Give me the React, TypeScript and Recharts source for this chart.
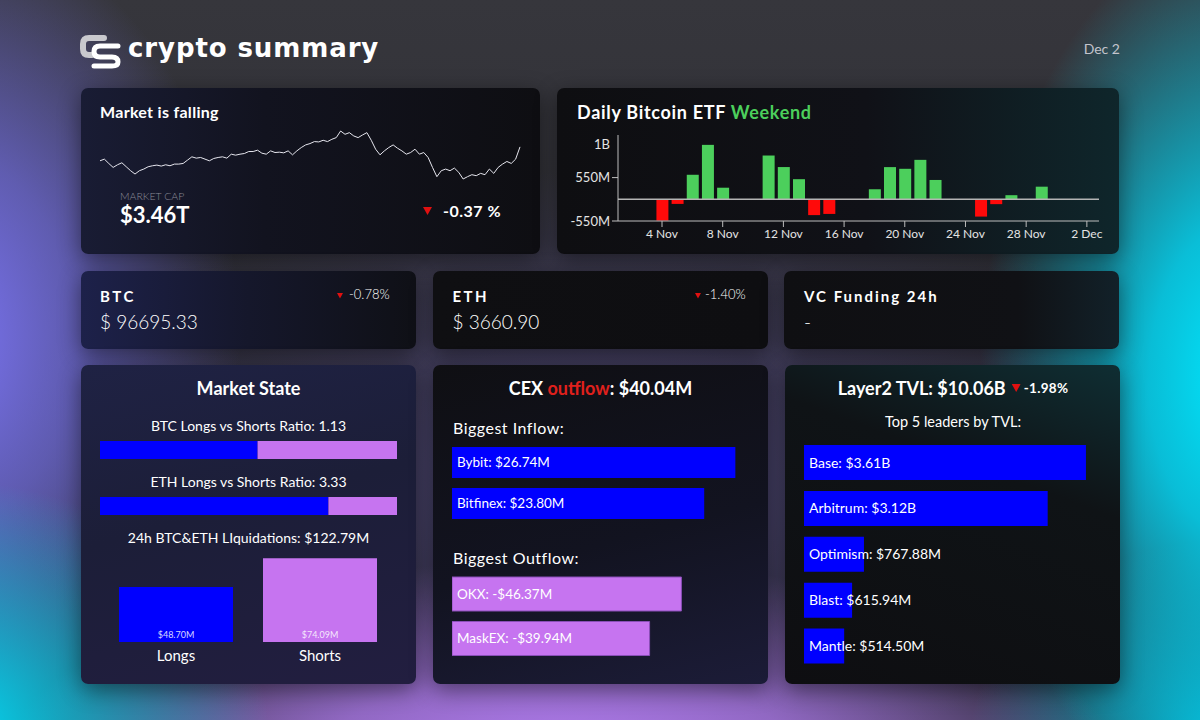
import React from 'react';
import { BarChart, Bar, XAxis, YAxis, LineChart, Line, ReferenceLine, LabelList, Cell } from 'recharts';

const FONT = 'Lato, "Noto Sans", sans-serif';
const BLUE = '#0000ff';
const VIOLET = '#c674f0';
const GREEN = '#4ccf5c';
const RED = '#ff0a0a';

// Market cap trend (trillions USD), read from sparkline
const marketCapT = [
  3.380, 3.385, 3.372, 3.360, 3.368, 3.374, 3.362, 3.350, 3.340, 3.350,
  3.355, 3.362, 3.365, 3.367, 3.364, 3.368, 3.365, 3.370, 3.370, 3.372,
  3.382, 3.392, 3.388, 3.390, 3.385, 3.380, 3.387, 3.390, 3.392, 3.388,
  3.400, 3.397, 3.400, 3.402, 3.408, 3.408, 3.412, 3.403, 3.400, 3.410,
  3.405, 3.406, 3.404, 3.410, 3.398, 3.410, 3.420, 3.428, 3.432, 3.438,
  3.437, 3.442, 3.438, 3.445, 3.450, 3.470, 3.460, 3.465, 3.455, 3.450,
  3.458, 3.465, 3.442, 3.415, 3.398, 3.410, 3.420, 3.428, 3.418, 3.410,
  3.400, 3.405, 3.415, 3.400, 3.405, 3.390, 3.360, 3.332, 3.350, 3.355,
  3.350, 3.358, 3.345, 3.325, 3.332, 3.338, 3.335, 3.342, 3.338, 3.355,
  3.342, 3.360, 3.370, 3.378, 3.372, 3.385, 3.422,
];

// Daily Bitcoin ETF net flows (day of November; 32 = 2 Dec), millions USD
const etfDays = [4, 5, 6, 7, 8, 11, 12, 13, 14, 15, 18, 19, 20, 21, 22, 25, 26, 27, 29];
const etfFlowsM = [-541.1, -116.8, 621.9, 1380, 293.9, 1110, 817.5, 510.1, -400.7, -370.8, 254.7, 816.4, 773.4, 1000, 490.3, -438.4, -122.8, 104.3, 320];
const etfTickDays = [4, 8, 12, 16, 20, 24, 28, 32];
const etfTickLabels = ['4 Nov', '8 Nov', '12 Nov', '16 Nov', '20 Nov', '24 Nov', '28 Nov', '2 Dec'];
const etfYTicks = [-550, 550, 1380];
const etfYTickLabels = ['-550M', '550M', '1B'];

// Long/short ratios
const ratioAssets = ['BTC', 'ETH'];
const longShortRatios = [1.13, 3.33];

// Liquidations (millions USD)
const liqSides = ['Longs', 'Shorts'];
const liqValuesM = [48.70, 74.09];

// CEX flows (millions USD)
const inflowExchanges = ['Bybit', 'Bitfinex'];
const inflowValuesM = [26.74, 23.80];
const outflowExchanges = ['OKX', 'MaskEX'];
const outflowValuesM = [-46.37, -39.94];

// Layer2 TVL (millions USD)
const l2Names = ['Base', 'Arbitrum', 'Optimism', 'Blast', 'Mantle'];
const l2TvlM = [3610, 3120, 767.88, 615.94, 514.50];

const sparkData = marketCapT.map((v, i) => ({ i, v }));
const etfData = etfDays.map((d, i) => ({ day: d, flow: etfFlowsM[i] }));
const ratioRows = ratioAssets.map((a, i) => ({ name: a, longs: longShortRatios[i], shorts: 1 }));
const liqData = liqSides.map((s, i) => ({ name: s, value: liqValuesM[i] }));
const fmtM = (v: number) => {
  const a = Math.abs(v);
  const s = a >= 1000 ? `$${(a / 1000).toFixed(2)}B` : `$${a.toFixed(2)}M`;
  return (v < 0 ? '-' : '') + s;
};
const inflowData = inflowExchanges.map((n, i) => ({ name: n, value: inflowValuesM[i], label: `${n}: ${fmtM(inflowValuesM[i])}` }));
const outflowData = outflowExchanges.map((n, i) => ({ name: n, value: Math.abs(outflowValuesM[i]), label: `${n}: ${fmtM(outflowValuesM[i])}` }));
const l2Data = l2Names.map((n, i) => ({ name: n, value: l2TvlM[i], label: `${n}: ${fmtM(l2TvlM[i])}` }));

type TxtProps = { x: number; y: number; size: number; weight?: number; color?: string; anchor?: 'start' | 'middle' | 'end'; spacing?: number; family?: string; children: React.ReactNode };
const Txt = ({ x, y, size, weight = 400, color = '#fff', anchor = 'start', spacing = 0, family = FONT, children }: TxtProps) => (
  <div
    style={{
      position: 'absolute', left: x, top: y - size * 0.63, fontSize: size, lineHeight: `${size * 1.2}px`,
      fontWeight: weight, color, fontFamily: family, letterSpacing: spacing, whiteSpace: 'nowrap',
      transform: anchor === 'middle' ? 'translateX(-50%)' : anchor === 'end' ? 'translateX(-100%)' : undefined,
    }}
  >
    {children}
  </div>
);

const Tri = ({ x, y, w }: { x: number; y: number; w: number }) => (
  <svg style={{ position: 'absolute', left: x - w / 2, top: y - w * 0.45 }} width={w} height={w}>
    <polygon points={`0,0 ${w},0 ${w / 2},${w * 0.9}`} fill="#e01010" />
  </svg>
);

const Card = ({ x, y, w, h, bg }: { x: number; y: number; w: number; h: number; bg: string }) => (
  <div style={{ position: 'absolute', left: x, top: y, width: w, height: h, borderRadius: 7, background: bg, boxShadow: '0 6px 22px rgba(0,0,0,0.45)' }} />
);

const Pos = ({ x, y, children }: { x: number; y: number; children: React.ReactNode }) => (
  <div style={{ position: 'absolute', left: x, top: y }}>{children}</div>
);

const EtfYTick = (p: any) => {
  const { x, y, payload } = p;
  const idx = etfYTicks.indexOf(payload.value);
  return (
    <g>
      {payload.value !== 1380 && <line x1={x + 2} x2={x + 8} y1={y} y2={y} stroke="#c0c0c0" />}
      <text x={x} y={y} dy="0.35em" textAnchor="end" fill="#e4e4e4" fontSize={13} fontFamily={FONT}>{etfYTickLabels[idx]}</text>
    </g>
  );
};

const makeBarLabel = (fontSize: number) => (p: any) => {
  const vb = p.viewBox || {};
  const x = p.x ?? vb.x;
  const y = p.y ?? vb.y;
  const h = p.height ?? vb.height;
  return (
    <text x={x + 5} y={y + h / 2} dy="0.36em" fill="#ffffff" fontSize={fontSize} fontFamily={FONT}>{p.value}</text>
  );
};

const HBar = ({ data, w, h, max, barSize, fill, stroke, fontSize }: any) => (
  <BarChart layout="vertical" width={w} height={h} data={data} margin={{ top: 0, right: 0, left: 0, bottom: 0 }}>
    <XAxis type="number" hide domain={[0, max]} />
    <YAxis type="category" dataKey="name" hide />
    <Bar dataKey="value" fill={fill} stroke={stroke} strokeWidth={stroke ? 1 : 0} barSize={barSize} isAnimationActive={false}>
      <LabelList dataKey="label" content={makeBarLabel(fontSize)} />
    </Bar>
  </BarChart>
);

const RatioBar = ({ row }: any) => (
  <BarChart layout="vertical" width={297} height={20} data={[row]} margin={{ top: 0, right: 0, left: 0, bottom: 0 }} barCategoryGap={0}>
    <XAxis type="number" hide domain={[0, 'dataMax']} />
    <YAxis type="category" dataKey="name" hide />
    <Bar dataKey="longs" stackId="r" fill={BLUE} barSize={20} isAnimationActive={false} />
    <Bar dataKey="shorts" stackId="r" fill={VIOLET} barSize={20} isAnimationActive={false} />
  </BarChart>
);

export default function App() {
  const bg = [
    'radial-gradient(ellipse 260px 450px at 1240px 380px, rgba(0,232,255,1) 0%, rgba(0,225,255,0.8) 35%, rgba(0,220,255,0) 100%)',
    'radial-gradient(ellipse 330px 260px at -60px 740px, rgba(0,228,255,1) 0%, rgba(0,228,255,0.6) 40%, rgba(0,228,255,0) 100%)',
    'radial-gradient(ellipse 560px 210px at 560px 770px, rgba(185,128,250,1) 0%, rgba(185,128,250,0.7) 45%, rgba(185,128,250,0) 100%)',
    'radial-gradient(ellipse 300px 420px at -60px 340px, rgba(125,118,248,1) 0%, rgba(120,115,240,0.65) 45%, rgba(120,115,240,0) 100%)',
    'radial-gradient(ellipse 260px 200px at 1230px 740px, rgba(0,200,230,0.9) 0%, rgba(0,200,230,0) 100%)',
    'radial-gradient(ellipse 600px 300px at 600px 470px, rgba(110,95,190,0.45) 0%, rgba(110,95,190,0) 100%)',
    'linear-gradient(180deg, #36363c 0%, #2d2d34 60%, #2e2d3a 100%)',
  ].join(',');

  return (
    <div style={{ position: 'absolute', left: 0, top: 0, width: 1200, height: 720, overflow: 'hidden', background: bg, fontFamily: FONT }}>
      {/* Header */}
      <svg style={{ position: 'absolute', left: 78, top: 32 }} width={46} height={38}>
        <path d="M 26 6 H 11 Q 5 6 5 12 V 17 Q 5 23 11 23 H 14" fill="none" stroke="#c9c9ce" strokeWidth={6} strokeLinecap="round" />
        <path d="M 40 14 H 22 Q 16 14 16 19.5 Q 16 25 22 25 H 34 Q 40 25 40 30 Q 40 34 34 34 H 16" fill="none" stroke="#ffffff" strokeWidth={5} strokeLinecap="round" />
      </svg>
      <Txt x={128} y={49} size={26} weight={700} spacing={0.9} family='"DejaVu Sans", sans-serif'>crypto summary</Txt>
      <Txt x={1120} y={50} size={14} color="#c4c4cc" anchor="end">Dec 2</Txt>

      {/* Cards */}
      <Card x={81} y={88} w={459} h={166} bg="linear-gradient(90deg, #191c34 0%, #12131f 40%, #0e0e12 100%)" />
      <Card x={557} y={88} w={562} h={166} bg="linear-gradient(90deg, #0e0e11 0%, #101117 55%, #0f262b 100%)" />
      <Card x={81} y={271} w={335} h={78} bg="linear-gradient(90deg, #1d214a 0%, #15172b 50%, #0f1016 100%)" />
      <Card x={433} y={271} w={335} h={78} bg="linear-gradient(90deg, #0f0f12 0%, #0e0e11 100%)" />
      <Card x={784} y={271} w={335} h={78} bg="linear-gradient(90deg, #0f0f12 0%, #101115 70%, #122129 100%)" />
      <Card x={81} y={365} w={335} h={319} bg="linear-gradient(165deg, #1f2244 0%, #1c1e38 45%, #221e40 100%)" />
      <Card x={433} y={365} w={335} h={319} bg="linear-gradient(165deg, #0f0f13 0%, #121320 55%, #1c1c38 100%)" />
      <Card x={785} y={365} w={335} h={319} bg="linear-gradient(200deg, #0f2e33 0%, #0f1316 35%, #0e0e11 100%)" />

      {/* Market is falling */}
      <Txt x={100} y={112} size={16} weight={700} spacing={0.3}>Market is falling</Txt>
      <Pos x={100} y={130}>
        <LineChart width={421} height={50} data={sparkData} margin={{ top: 1, right: 1, left: 0, bottom: 1 }}>
          <XAxis dataKey="i" hide />
          <YAxis hide domain={['dataMin', 'dataMax']} />
          <Line type="linear" dataKey="v" stroke="#e6e6ee" strokeWidth={1} dot={false} isAnimationActive={false} />
        </LineChart>
      </Pos>
      <Txt x={120} y={197} size={10.5} weight={300} color="#8a8a96">MARKET CAP</Txt>
      <Txt x={120} y={215.5} size={22} weight={700}>$3.46T</Txt>
      <Tri x={427} y={211} w={9} />
      <Txt x={443} y={211} size={16} weight={700} spacing={0.5}>-0.37 %</Txt>

      {/* Daily Bitcoin ETF */}
      <Txt x={577} y={113} size={18} weight={700} spacing={0.7}>
        Daily Bitcoin ETF <span style={{ color: GREEN }}>Weekend</span>
      </Txt>
      <Pos x={557} y={125}>
        <BarChart width={562} height={126} data={etfData} margin={{ top: 10, right: 20, left: 0, bottom: 0 }}>
          <XAxis
            type="number" dataKey="day" domain={[1.1, 32.8]} ticks={etfTickDays} interval={0} allowDataOverflow
            tickFormatter={(d: number) => etfTickLabels[etfTickDays.indexOf(d)]}
            stroke="#bdbdbd" tick={{ fill: '#e4e4e4', fontSize: 12, fontFamily: FONT }} height={30}
          />
          <YAxis
            type="number" domain={[-550, 1630]} ticks={etfYTicks} interval={0} allowDataOverflow width={61}
            stroke="#bdbdbd" tickLine={false} tick={(p: any) => <EtfYTick {...p} />}
          />
          <ReferenceLine y={0} stroke="#b4b4b4" strokeWidth={1.5} />
          <Bar dataKey="flow" barSize={12} isAnimationActive={false}>
            {etfData.map((d, i) => <Cell key={i} fill={d.flow >= 0 ? GREEN : RED} />)}
          </Bar>
        </BarChart>
      </Pos>

      {/* BTC / ETH / VC */}
      <Txt x={100} y={296} size={15} weight={700} spacing={2.5}>BTC</Txt>
      <Txt x={100} y={322.5} size={19} weight={300}>$ 96695.33</Txt>
      <Tri x={340} y={296} w={6} />
      <Txt x={349} y={295.5} size={13} weight={300}>-0.78%</Txt>

      <Txt x={452.5} y={296} size={15} weight={700} spacing={2.5}>ETH</Txt>
      <Txt x={452.5} y={322.5} size={19} weight={300}>$ 3660.90</Txt>
      <Tri x={698} y={296} w={6} />
      <Txt x={705} y={295.5} size={13} weight={300}>-1.40%</Txt>

      <Txt x={804} y={296} size={15} weight={700} spacing={2}>VC Funding 24h</Txt>
      <Txt x={804} y={322.5} size={19} weight={300}>-</Txt>

      {/* Market State */}
      <Txt x={248.5} y={389} size={18} weight={700} anchor="middle">Market State</Txt>
      <Txt x={248.5} y={427.3} size={14} anchor="middle">BTC Longs vs Shorts Ratio: 1.13</Txt>
      <Pos x={100} y={440}><RatioBar row={ratioRows[0]} /></Pos>
      <Txt x={248.5} y={483.3} size={14} anchor="middle">ETH Longs vs Shorts Ratio: 3.33</Txt>
      <Pos x={100} y={496}><RatioBar row={ratioRows[1]} /></Pos>
      <Txt x={248.5} y={539} size={14} anchor="middle">24h BTC&amp;ETH LIquidations: $122.79M</Txt>
      <Pos x={100} y={540}>
        <BarChart width={297} height={130} data={liqData} margin={{ top: 10, right: 5, left: 4, bottom: 0 }}>
          <XAxis dataKey="name" axisLine={false} tickLine={false} height={28} tick={{ fill: '#ffffff', fontSize: 15, fontFamily: FONT }} />
          <YAxis hide domain={[0, 81.4]} />
          <Bar dataKey="value" barSize={114} isAnimationActive={false}>
            {liqData.map((d, i) => <Cell key={i} fill={i === 0 ? BLUE : VIOLET} />)}
            <LabelList dataKey="value" position="insideBottom" offset={4} fill="rgba(255,255,255,0.85)" fontSize={9} fontFamily={FONT} formatter={(v: any) => fmtM(Number(v))} />
          </Bar>
        </BarChart>
      </Pos>

      {/* CEX */}
      <Txt x={600.5} y={389} size={18} weight={700} anchor="middle">
        CEX <span style={{ color: '#e0201c' }}>outflow</span>: $40.04M
      </Txt>
      <Txt x={453} y={428.3} size={16} spacing={0.5}>Biggest Inflow:</Txt>
      <Pos x={452} y={442}>
        <HBar data={inflowData} w={300} h={82} max={28.31} barSize={31} fill={BLUE} fontSize={13.5} />
      </Pos>
      <Txt x={453} y={557.7} size={16} spacing={0.5}>Biggest Outflow:</Txt>
      <Pos x={452} y={572}>
        <HBar data={outflowData} w={300} h={89} max={60.64} barSize={34} fill={VIOLET} stroke="#8a4fb8" fontSize={13.5} />
      </Pos>

      {/* Layer2 */}
      <div style={{ position: 'absolute', left: 953, top: 389 - 18 * 0.63, transform: 'translateX(-50%)', whiteSpace: 'nowrap', fontFamily: FONT, color: '#fff', display: 'flex', alignItems: 'center' }}>
        <span style={{ fontSize: 18, fontWeight: 700, lineHeight: '21.6px' }}>Layer2 TVL: $10.06B</span>
        <svg width={9} height={9} style={{ marginLeft: 6, marginRight: 3 }}><polygon points="0,0 9,0 4.5,8" fill="#e01010" /></svg>
        <span style={{ fontSize: 13.5, fontWeight: 700, lineHeight: '21.6px', letterSpacing: 0.3 }}>-1.98%</span>
      </div>
      <Txt x={953} y={422.3} size={14.5} anchor="middle">Top 5 leaders by TVL:</Txt>
      <Pos x={804} y={440}>
        <HBar data={l2Data} w={300} h={229.5} max={3841} barSize={35} fill={BLUE} fontSize={14} />
      </Pos>
    </div>
  );
}
